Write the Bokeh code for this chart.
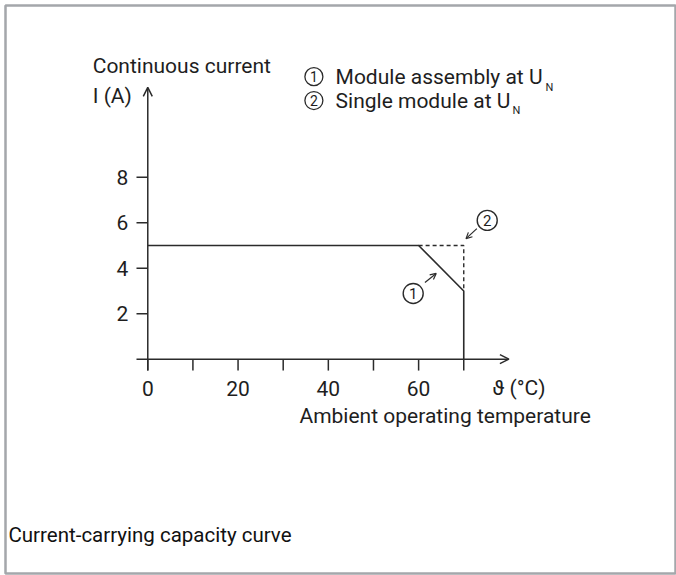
from bokeh.plotting import figure
from bokeh.models import Range1d, Arrow, OpenHead
from bokeh.core.properties import value
from bokeh.embed import file_html
from bokeh.resources import INLINE

# ---- data ----
temp_curve = [0, 60, 70, 70]
current_curve = [5, 5, 3, 0]
temp_dashed = [60, 70, 70]
current_dashed = [5, 5, 3]

x_ticks = [0, 10, 20, 30, 40, 50, 60, 70]
x_tick_labels = ["0", "", "20", "", "40", "", "60", ""]
y_ticks = [2, 4, 6, 8]
y_tick_labels = ["2", "4", "6", "8"]

y_title = ["Continuous current", "I (A)"]
x_unit = "ϑ (°C)"
x_title = "Ambient operating temperature"
legend_labels = ["Module assembly at U", "Single module at U"]
legend_nums = ["1", "2"]
caption = "Current-carrying capacity curve"

FONT = value("Roboto")
FS = "21px"
INK = "#1e1e1e"
LINE = "#2b2b2b"

W, H = 676, 575
p = figure(width=W, height=H, output_backend="svg", toolbar_location=None,
           x_range=Range1d(-31.52, 116.91), y_range=Range1d(-9.42, 15.547),
           min_border_left=5, min_border_top=5, min_border_right=1, min_border_bottom=2,
           background_fill_color="white", border_fill_color="white")
p.axis.visible = False
p.grid.visible = False
p.outline_line_color = "#a4a7ab"
p.outline_line_width = 2.5

# axes with arrows
p.add_layout(Arrow(x_start=-2.5, y_start=0, x_end=80, y_end=0, line_color=LINE, line_width=1.5,
                   end=OpenHead(size=9, line_color=LINE, line_width=1.5)))
p.add_layout(Arrow(x_start=0, y_start=-0.5, x_end=0, y_end=11.95, line_color=LINE, line_width=1.5,
                   end=OpenHead(size=9, line_color=LINE, line_width=1.5)))

# ticks
p.segment(x0=x_ticks, y0=[0]*len(x_ticks), x1=x_ticks, y1=[-0.5]*len(x_ticks), line_color=LINE, line_width=1.5)
p.segment(x0=[0]*len(y_ticks), y0=y_ticks, x1=[-2.5]*len(y_ticks), y1=y_ticks, line_color=LINE, line_width=1.5)

# tick labels
p.text(x=x_ticks, y=[-1.27]*len(x_ticks), text=x_tick_labels, text_font=FONT, text_font_size=FS,
       text_align="center", text_baseline="middle", text_color=INK)
p.text(x=[-4.3]*len(y_ticks), y=y_ticks, text=y_tick_labels, text_font=FONT, text_font_size=FS,
       text_align="right", text_baseline="middle", text_color=INK)

# axis titles
p.text(x=[-12.2, -12.2], y=[12.89, 11.57], text=y_title, text_font=FONT, text_font_size=FS,
       text_align="left", text_baseline="middle", text_color=INK)
p.text(x=[76.3], y=[-1.27], text=[x_unit], text_font=FONT, text_font_size=FS,
       text_align="left", text_baseline="middle", text_color=INK)
p.text(x=[33.6], y=[-2.50], text=[x_title], text_font=FONT, text_font_size=FS,
       text_align="left", text_baseline="middle", text_color=INK)

# curves
p.line(temp_curve, current_curve, line_color=LINE, line_width=1.6)
p.line(temp_dashed, current_dashed, line_color=LINE, line_width=1.4, line_dash="4 3")

# circled markers in plot
p.scatter(x=[58.8, 75.2], y=[2.89, 6.1], marker="circle", size=20, fill_color=None,
          line_color=LINE, line_width=1.4)
p.text(x=[58.8, 75.2], y=[2.89, 6.1], text=legend_nums, text_font=FONT, text_font_size="15px",
       text_align="center", text_baseline="middle", text_color=INK)
p.add_layout(Arrow(x_start=61.4, y_start=3.37, x_end=63.9, y_end=3.77, line_color=LINE, line_width=1.2,
                   end=OpenHead(size=6, line_color=LINE, line_width=1.2)))
p.add_layout(Arrow(x_start=72.9, y_start=5.74, x_end=70.5, y_end=5.3, line_color=LINE, line_width=1.2,
                   end=OpenHead(size=6, line_color=LINE, line_width=1.2)))

# legend
p.scatter(x=[36.8, 36.8], y=[12.42, 11.37], marker="circle", size=18, fill_color=None,
          line_color=LINE, line_width=1.3)
p.text(x=[36.8, 36.8], y=[12.42, 11.37], text=legend_nums, text_font=FONT, text_font_size="14px",
       text_align="center", text_baseline="middle", text_color=INK)
p.text(x=[41.6, 41.6], y=[12.42, 11.37], text=legend_labels, text_font=FONT, text_font_size=FS,
       text_align="left", text_baseline="middle", text_color=INK)
p.text(x=[88.1, 80.8], y=[11.96, 10.91], text=["N", "N"], text_font=FONT, text_font_size="11px",
       text_align="left", text_baseline="middle", text_color=INK)

# caption
p.text(x=[-30.86], y=[-7.72], text=[caption], text_font=FONT, text_font_size="20.5px",
       text_align="left", text_baseline="middle", text_color="#111111")

open("out.html", "w").write(file_html(p, INLINE))
